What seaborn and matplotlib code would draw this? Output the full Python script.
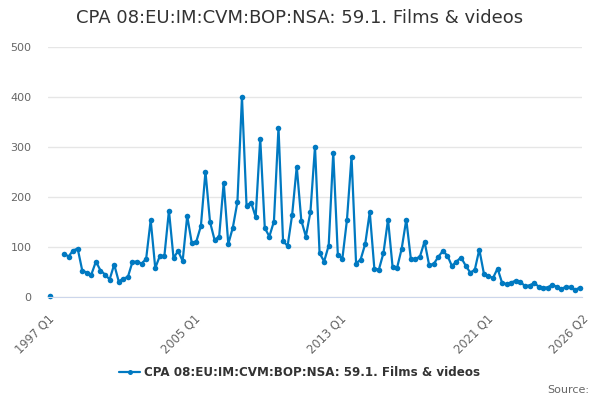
import numpy as np
import pandas as pd
import seaborn as sns
import matplotlib.pyplot as plt
from matplotlib.lines import Line2D

# quarterly values, 1997 Q1 .. 2026 Q1 (1997 Q2/Q3 missing)
first_year = 1997
values = [
    2, np.nan, np.nan,
    87, 81, 93, 97, 53, 49, 45, 71, 53, 45, 35, 65, 31, 37, 40, 70,
    71, 67, 76, 154, 58, 82, 82, 173, 78, 92, 72, 162, 108, 111, 142, 251,
    150, 114, 121, 229, 106, 139, 190, 400, 183, 189, 160, 317, 138, 121, 151, 339,
    112, 102, 165, 261, 153, 121, 170, 301, 88, 71, 103, 289, 85, 77, 154, 281,
    67, 75, 106, 170, 57, 55, 88, 155, 60, 59, 97, 155, 76, 76, 81, 111,
    64, 66, 80, 92, 83, 62, 71, 79, 63, 49, 54, 95, 47, 42, 38, 57,
    28, 26, 29, 33, 30, 22, 23, 28, 21, 19, 19, 25, 20, 16, 21, 20,
    14, 19,
]
series_name = "CPA 08:EU:IM:CVM:BOP:NSA: 59.1. Films & videos"
label_ticks = ["1997 Q1", "2005 Q1", "2013 Q1", "2021 Q1", "2026 Q2"]

def q_index(lbl):
    y, q = lbl.split(" Q")
    return (int(y) - first_year) * 4 + int(q) - 1

df = pd.DataFrame({"value": values})
df["pos"] = np.arange(len(df)) + 0.5
df["seg"] = df["value"].isna().cumsum()
df = df.dropna()

color = "#0079c1"
sns.set_style("white")
plt.rcParams["font.family"] = ["DejaVu Sans"]

fig = plt.figure(figsize=(6, 4), dpi=100)
ax = fig.add_axes([0.08, 0.2575, 0.89, 0.625])

sns.lineplot(data=df, x="pos", y="value", units="seg", estimator=None,
             color=color, linewidth=1.6, marker="o", markersize=4,
             markeredgewidth=0, ax=ax, legend=False)
for ln in ax.lines:
    ln.set_clip_on(False)

ax.set_xlim(0, q_index("2026 Q2"))
ax.set_ylim(0, 500)
ax.set_yticks(range(0, 501, 100))
ax.yaxis.grid(True, color="#e6e6e6", linewidth=1)
ax.set_axisbelow(True)

minor = list(range(0, q_index("2026 Q2"), 8)) + [q_index("2026 Q2")]
ax.set_xticks(minor)
major_pos = {q_index(l): l for l in label_ticks}
ax.set_xticklabels([major_pos.get(p, "") for p in minor])
plt.setp(ax.get_xticklabels(), rotation=45, ha="right", rotation_mode="anchor")

ax.tick_params(axis="x", colors="#ccd6eb", length=7, width=1, labelcolor="#666666",
               labelsize=8.3, pad=4)
ax.tick_params(axis="y", length=0, labelcolor="#666666", labelsize=8, pad=12)
for side in ["left", "right", "top"]:
    ax.spines[side].set_visible(False)
ax.spines["bottom"].set_color("#ccd6eb")
ax.set_xlabel("")
ax.set_ylabel("")

fig.text(0.5, 0.955, series_name, ha="center", va="center", fontsize=13, color="#333333")

handle = Line2D([], [], color=color, linewidth=1.6, marker="o", markersize=3.6,
                markeredgewidth=0)
fig.legend(handles=[handle], labels=[series_name], loc="center", bbox_to_anchor=(0.5, 0.068),
           frameon=False, prop={"weight": "bold", "size": 8.6}, handlelength=1.7,
           handletextpad=0.4, labelcolor="#333333")

fig.text(0.982, 0.025, "Source:", ha="right", va="center", fontsize=8, color="#666666")

fig.savefig("out.png", dpi=100)
